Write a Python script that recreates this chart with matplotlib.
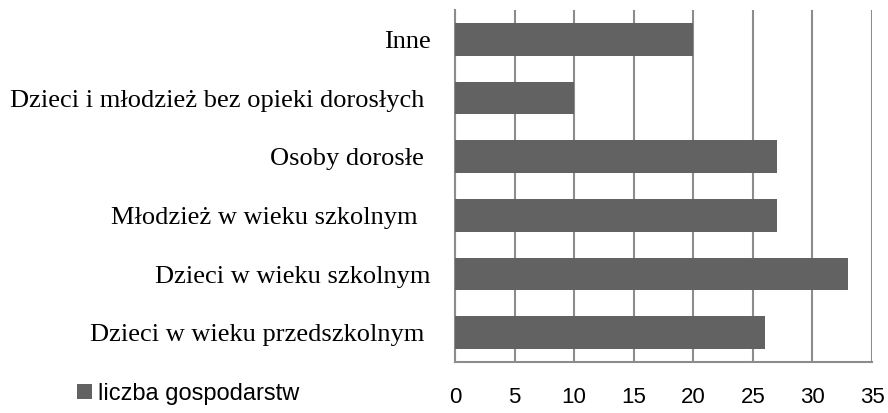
import matplotlib
matplotlib.use("Agg")
import matplotlib.pyplot as plt

categories = [
    "Dzieci w wieku przedszkolnym ",
    "Dzieci w wieku szkolnym",
    "Młodzież w wieku szkolnym  ",
    "Osoby dorosłe ",
    "Dzieci i młodzież bez opieki dorosłych ",
    "Inne",
]
values = [26, 33, 27, 27, 10, 20]
series_name = "liczba gospodarstw"
xticks = [0, 5, 10, 15, 20, 25, 30, 35]

bar_color = "#626262"
grid_color = "#8c8c8c"

fig = plt.figure(figsize=(8.88, 4.13), dpi=100)
ax = fig.add_axes([455 / 888, (413 - 362) / 413, (872 - 455) / 888, 352 / 413])

ypos = list(range(len(categories)))
ax.barh(ypos, values, height=0.56, color=bar_color, label=series_name, zorder=3)

ax.set_xlim(0, 35)
ax.set_ylim(-0.5, len(categories) - 0.5)
ax.set_xticks(xticks)
ax.set_xticklabels([str(t) for t in xticks], fontfamily="Liberation Sans", fontsize=16)
ax.set_yticks(ypos)
ax.set_yticklabels(categories, fontfamily="Liberation Serif", fontsize=19)
ax.tick_params(axis="x", length=0, pad=18, colors="black")
ax.tick_params(axis="y", length=0, pad=17.3, colors="black")

ax.grid(axis="x", color=grid_color, linewidth=1.5, zorder=0)
ax.grid(axis="y", visible=False)
for s in ["top", "right"]:
    ax.spines[s].set_visible(False)
for s in ["left", "bottom"]:
    ax.spines[s].set_color(grid_color)
    ax.spines[s].set_linewidth(1.5)

fig.legend(loc="center left", bbox_to_anchor=(77 / 888, (413 - 394) / 413),
           frameon=False, prop={"family": "Liberation Sans", "size": 17},
           handlelength=0.62, handleheight=0.6, handletextpad=0.25,
           borderpad=0, borderaxespad=0)

fig.savefig("out.png", dpi=100)
